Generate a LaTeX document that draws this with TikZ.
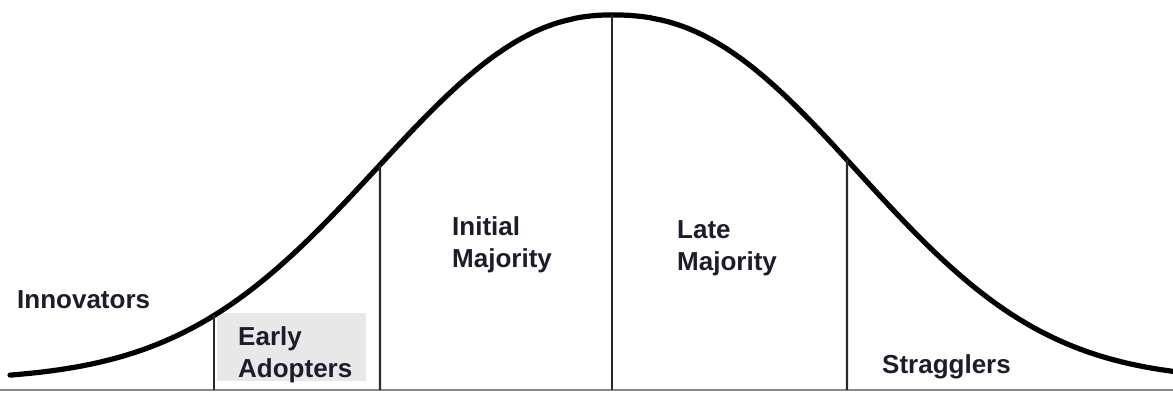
\documentclass[tikz,border=0pt]{standalone}
\usepackage{fontspec}
\setmainfont{Liberation Sans}
\usetikzlibrary{intersections}
\definecolor{txt}{HTML}{1C1C2A}
\definecolor{boxgrey}{HTML}{E8E8E8}
\definecolor{basegrey}{HTML}{8A8A8A}
\definecolor{divider}{HTML}{2A2A2A}
\tikzset{
  lbl/.style={font=\bfseries\fontsize{26}{32}\selectfont, text=txt, inner sep=0pt, align=left, anchor=base west},
  curveline/.style={line width=5.2pt, black, line cap=round, line join=round},
  divline/.style={line width=2.2pt, divider},
  baseline/.style={line width=2pt, basegrey}
}
\begin{document}
\begin{tikzpicture}[x=1pt,y=-1pt]
\useasboundingbox (0,0) rectangle (1173,392);
% grey background of Early Adopters
\fill[boxgrey] (217,313) rectangle (366,381);
% base line
\coordinate (bl) at (0,390);
\coordinate (br) at (1173,390);
\draw[baseline] (bl) -- (br);
% bell curve
\draw[curveline, name path=curve]
  plot[domain=10:611.9, samples=220] ({\x},{380-365*exp(-pow((612-\x)/310,2.2))})
  -- plot[domain=612.1:1173, samples=220] ({\x},{380-365*exp(-pow((\x-612)/316,2.3))});
% dividers
\foreach \n/\x in {a/214,b/380,d/847}{
  \path[name path=v\n] (\x,0) -- (\x,392);
  \path[name intersections={of=curve and v\n, by={top\n}}];
}
\coordinate (topc) at (612,15);
\foreach \n/\x in {a/214,b/380,c/612,d/847}{
  \coordinate (bot\n) at (\x,390);
  \draw[divline] (top\n) -- (bot\n);
}
% labels
\node[lbl] (innov) at (17,308) {Innovators};
\node[lbl] (early) at (238,377) {Early\\Adopters};
\node[lbl] (initial) at (452,267) {Initial\\Majority};
\node[lbl] (late) at (677,270) {Late\\Majority};
\node[lbl] (strag) at (882,373) {Stragglers};
\end{tikzpicture}
\end{document}
